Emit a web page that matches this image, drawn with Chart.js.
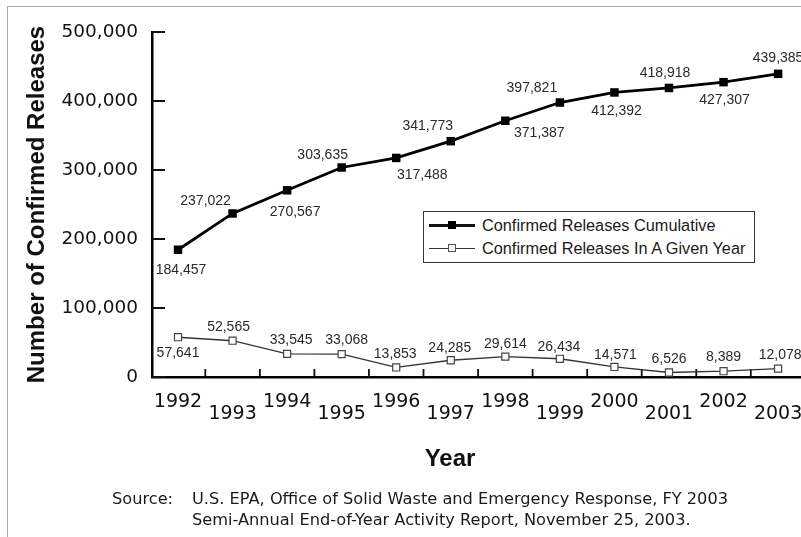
<!DOCTYPE html>
<html>
<head>
<meta charset="utf-8">
<script src="https://cdn.jsdelivr.net/npm/chart.js@4"></script>
<style>
html, body { margin: 0; padding: 0; background: #fff; overflow: hidden; }
#wrap { position: relative; width: 801px; height: 537px; font-family: "Liberation Sans", Arial, sans-serif; color: #1a1a1a; }
#frame { position: absolute; left: 7px; top: 6px; width: 800px; height: 540px; border-left: 1px solid #aaa; border-top: 1px solid #aaa; }
#chart { position: absolute; left: 0; top: 0; }
#legend { position: absolute; left: 423px; top: 211px; width: 332px; height: 52px; border: 1.5px solid #333; box-sizing: border-box; background: #fff; }
.ln { position: absolute; left: 429px; width: 46px; background: #111; }
.mk { position: absolute; width: 8px; height: 8px; box-sizing: border-box; }
.lt { position: absolute; left: 482px; font-size: 16.3px; line-height: 20px; white-space: nowrap; }
#xtitle { position: absolute; left: 350px; width: 200px; top: 446px; line-height: 24px; text-align: center; font-size: 24px; font-weight: bold; color: #111; }
.src { position: absolute; font-family: "DejaVu Sans", sans-serif; font-size: 16.2px; line-height: 20px; white-space: nowrap; }
</style>
</head>
<body>
<div id="wrap">
  <div id="frame"></div>
  <canvas id="chart" width="801" height="537"></canvas>
  <div id="legend"></div>
  <div class="ln" style="top:224px;height:2.6px"></div>
  <div class="mk" style="left:448px;top:221px;background:#000"></div>
  <div class="lt" style="top:215px">Confirmed Releases Cumulative</div>
  <div class="ln" style="top:247.5px;height:1.2px;background:#333"></div>
  <div class="mk" style="left:448px;top:244px;background:#fff;border:1px solid #555"></div>
  <div class="lt" style="top:238px">Confirmed Releases In A Given Year</div>
  <div id="xtitle">Year</div>
  <div class="src" style="left:112px;top:489px">Source:</div>
  <div class="src" style="left:192px;top:489px">U.S. EPA, Office of Solid Waste and Emergency Response, FY 2003</div>
  <div class="src" style="left:192px;top:510px">Semi-Annual End-of-Year Activity Report, November 25, 2003.</div>
</div>
<script>
const years = [1992, 1993, 1994, 1995, 1996, 1997, 1998, 1999, 2000, 2001, 2002, 2003];
const cumulative = [184457, 237022, 270567, 303635, 317488, 341773, 371387, 397821, 412392, 418918, 427307, 439385];
const annual = [57641, 52565, 33545, 33068, 13853, 24285, 29614, 26434, 14571, 6526, 8389, 12078];
const yTicks = [0, 100000, 200000, 300000, 400000, 500000];

// where each value label sits relative to its point (dx, dy)
const cumLabelOffsets = [[3, 20], [-27, -12], [8, 22], [-19, -12], [26, 17], [-23, -15], [34, 12], [-28, -14], [2, 19], [-4, -15], [1, 18], [0, -16]];
const annLabelOffsets = [[0, 16], [-4, -14], [4, -14], [5, -14], [-1, -13], [-1, -12], [0, -12], [-1, -12], [1, -12], [0, -13], [0, -14], [2, -14]];

const fmt = v => v.toLocaleString("en-US");

const axisMarks = {
    id: "axisMarks",
    beforeDatasetsDraw(chart) {
        const {ctx, chartArea: a, scales: {x, y}} = chart;
        ctx.save();
        ctx.strokeStyle = "#111";
        ctx.lineWidth = 1.8;
        ctx.beginPath();
        yTicks.forEach(v => {
            const py = y.getPixelForValue(v);
            ctx.moveTo(a.left, py);
            ctx.lineTo(a.left + 13, py);
        });
        years.slice(0, -1).forEach(yr => {
            const px = x.getPixelForValue(yr + 0.5);
            ctx.moveTo(px, a.bottom);
            ctx.lineTo(px, a.bottom - 8);
        });
        ctx.stroke();
        ctx.restore();
    }
};

const valueLabels = {
    id: "valueLabels",
    afterDatasetsDraw(chart) {
        const {ctx} = chart;
        const offsets = [cumLabelOffsets, annLabelOffsets];
        ctx.save();
        ctx.font = "14px 'Liberation Sans', Arial, sans-serif";
        ctx.fillStyle = "#2a2a2a";
        ctx.textAlign = "center";
        ctx.textBaseline = "middle";
        chart.data.datasets.forEach((ds, i) => {
            chart.getDatasetMeta(i).data.forEach((pt, j) => {
                const [dx, dy] = offsets[i][j];
                ctx.fillText(fmt(ds.data[j].y), pt.x + dx, pt.y + dy);
            });
        });
        ctx.restore();
    }
};

new Chart(document.getElementById("chart"), {
    type: "line",
    data: {
        datasets: [
            {
                label: "Confirmed Releases Cumulative",
                data: years.map((yr, i) => ({x: yr, y: cumulative[i]})),
                borderColor: "#000",
                borderWidth: 2.8,
                pointStyle: "rect",
                pointRadius: 6,
                pointBackgroundColor: "#000",
                pointBorderWidth: 0
            },
            {
                label: "Confirmed Releases In A Given Year",
                data: years.map((yr, i) => ({x: yr, y: annual[i]})),
                borderColor: "#333",
                borderWidth: 1.3,
                pointStyle: "rect",
                pointRadius: 5,
                pointBackgroundColor: "#fff",
                pointBorderColor: "#444",
                pointBorderWidth: 1.2
            }
        ]
    },
    options: {
        responsive: false,
        animation: false,
        layout: {autoPadding: false, padding: {left: 21, top: 32, right: 0, bottom: 0}},
        plugins: {legend: {display: false}, tooltip: {enabled: false}},
        scales: {
            x: {
                type: "linear",
                min: 1991.523,
                max: 2003.42,
                afterBuildTicks: s => { s.ticks = years.map(v => ({value: v})); },
                afterFit: s => { s.height = 160; s.paddingLeft = 0; s.paddingRight = 0; },
                grid: {display: true, drawOnChartArea: false, drawTicks: false},
                border: {display: true, color: "#000", width: 2.5},
                ticks: {
                    autoSkip: false,
                    maxRotation: 0,
                    padding: 19,
                    color: "#111",
                    font: {family: "'DejaVu Sans'", size: 19, lineHeight: 0.63},
                    callback: v => v % 2 ? ["", String(v)] : String(v)
                }
            },
            y: {
                min: 0,
                max: 500000,
                afterBuildTicks: s => { s.ticks = yTicks.map(v => ({value: v})); },
                afterFit: s => { s.width = 131; },
                grid: {display: true, drawOnChartArea: false, drawTicks: false},
                border: {display: true, color: "#000", width: 2.5},
                ticks: {
                    padding: 14,
                    color: "#111",
                    font: {family: "'DejaVu Sans'", size: 18.5},
                    callback: v => fmt(v)
                },
                title: {
                    display: true,
                    text: "Number of Confirmed Releases",
                    color: "#111",
                    padding: {top: 2, bottom: 0},
                    font: {family: "'Liberation Sans'", size: 24, weight: "bold"}
                }
            }
        }
    },
    plugins: [axisMarks, valueLabels]
});
</script>
</body>
</html>
